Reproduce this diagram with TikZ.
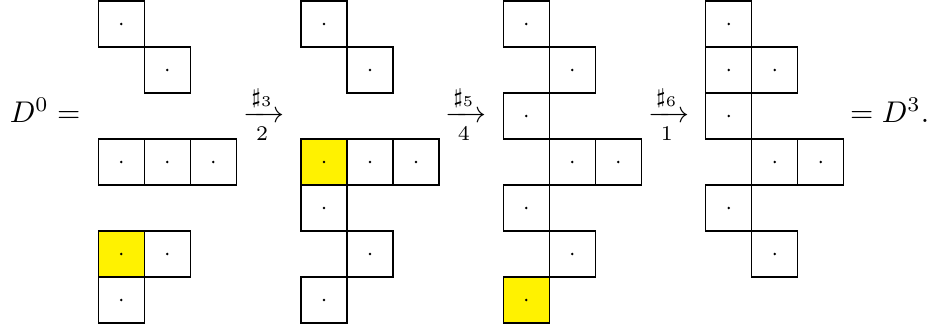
\documentclass[tikz,border=0pt]{standalone}
\usepackage{amsmath,amssymb}
\usepackage{tikz}
\usetikzlibrary{positioning}

\begin{document}
\begin{tikzpicture}[x=0.54cm,y=0.54cm,
  eqtext/.style={anchor=base}]
  \useasboundingbox (0,0.022) rectangle (20.217,-7.174);
  % D^0
  \begin{scope}[shift={(2.137,0)}]
    \fill[yellow] (0,-5) rectangle (1,-6); % 注目の箱
    \foreach \c/\r in {0/0,1/1,0/3,1/3,2/3,0/5,1/5,0/6}{
      \draw (\c,-\r) rectangle ++(1,-1);
      \fill (\c+0.5,-\r-0.5) circle (0.03);
    }
  \end{scope}
  % D^1
  \begin{scope}[shift={(6.543,0)}]
    \fill[yellow] (0,-3) rectangle (1,-4);
    \foreach \c/\r in {0/0,1/1,0/3,1/3,2/3,0/4,1/5,0/6}{
      \draw (\c,-\r) rectangle ++(1,-1);
      \fill (\c+0.5,-\r-0.5) circle (0.03);
    }
  \end{scope}
  % D^2
  \begin{scope}[shift={(10.94,0)}]
    \fill[yellow] (0,-6) rectangle (1,-7);
    \foreach \c/\r in {0/0,1/1,0/2,1/3,2/3,0/4,1/5,0/6}{
      \draw (\c,-\r) rectangle ++(1,-1);
      \fill (\c+0.5,-\r-0.5) circle (0.03);
    }
  \end{scope}
  % D^3
  \begin{scope}[shift={(15.34,0)}]
    \foreach \c/\r in {0/0,0/1,1/1,0/2,1/3,2/3,0/4,1/5}{
      \draw (\c,-\r) rectangle ++(1,-1);
      \fill (\c+0.5,-\r-0.5) circle (0.03);
    }
  \end{scope}
  \node[eqtext] (lhs) at (0.98,-2.63) {$D^0 =$};
  \node[eqtext] (arrA) at (5.74,-2.63) {$\xrightarrow[2]{\sharp_3}$};
  \node[eqtext] (arrB) at (10.13,-2.63) {$\xrightarrow[4]{\sharp_5}$};
  \node[eqtext] (arrC) at (14.54,-2.63) {$\xrightarrow[1]{\sharp_6}$};
  \node[eqtext] (rhs) at (19.34,-2.63) {$= D^3.$};
\end{tikzpicture}
\end{document}
